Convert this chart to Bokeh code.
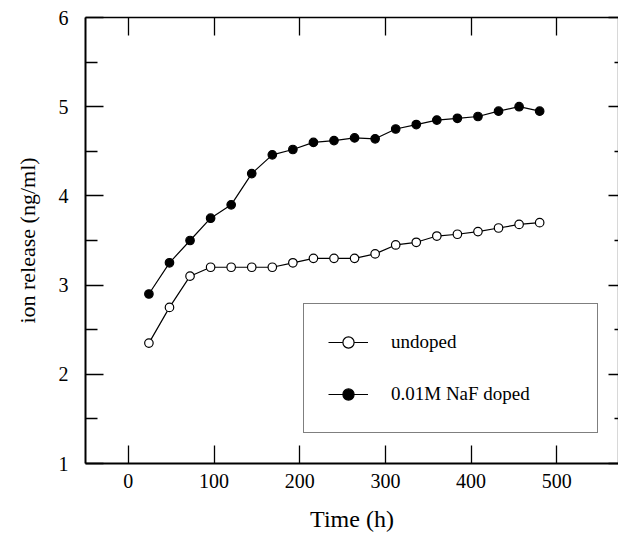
from bokeh.plotting import figure
from bokeh.models import (LinearAxis, FixedTicker, Legend, LegendItem, Range1d)
from bokeh.embed import file_html
from bokeh.resources import INLINE

hours = [24, 48, 72, 96, 120, 144, 168, 192, 216, 240,
         264, 288, 312, 336, 360, 384, 408, 432, 456, 480]
undoped = [2.35, 2.75, 3.10, 3.20, 3.20, 3.20, 3.20, 3.25, 3.30, 3.30,
           3.30, 3.35, 3.45, 3.48, 3.55, 3.57, 3.60, 3.64, 3.68, 3.70]
doped = [2.90, 3.25, 3.50, 3.75, 3.90, 4.25, 4.46, 4.52, 4.60, 4.62,
         4.65, 4.64, 4.75, 4.80, 4.85, 4.87, 4.89, 4.95, 5.00, 4.95]
x_ticks = [0, 100, 200, 300, 400, 500]
y_ticks = [1, 2, 3, 4, 5, 6]
y_minor = [1.5, 2.5, 3.5, 4.5, 5.5]

FONT = "Liberation Serif"

p = figure(width=618, height=534, output_backend="svg", toolbar_location=None,
           x_range=Range1d(-50, 572), y_range=Range1d(1, 6),
           min_border_left=85, min_border_top=17, min_border_bottom=67,
           min_border_right=0, x_axis_label="Time (h)",
           y_axis_label="ion release (ng/ml)")
p.outline_line_color = None
p.xgrid.visible = False
p.ygrid.visible = False
p.background_fill_color = "white"
p.border_fill_color = "white"

def style_axis(ax, ticks, minor, lw, labels=True):
    ax.ticker = FixedTicker(ticks=ticks, minor_ticks=minor)
    ax.axis_line_color = "black"
    ax.axis_line_width = lw
    ax.major_tick_line_color = "black"
    ax.major_tick_line_width = 1.3
    ax.minor_tick_line_color = "black"
    ax.minor_tick_line_width = 1.3
    ax.major_tick_out = 0
    ax.minor_tick_out = 0
    ax.major_tick_in = 18
    ax.minor_tick_in = 12
    ax.major_label_text_font = FONT
    if labels:
        ax.major_label_text_font_size = "20px"
        ax.major_label_text_color = "black"
    else:
        ax.major_label_text_font_size = "0px"
        ax.major_label_text_color = None
    ax.axis_label_text_font = FONT
    ax.axis_label_text_font_style = "normal"
    ax.axis_label_text_color = "black"

xa = p.xaxis[0]
style_axis(xa, x_ticks, [], 2)
xa.major_label_standoff = 10
xa.axis_label_standoff = 15
xa.axis_label_text_font_size = "24px"

ya = p.yaxis[0]
style_axis(ya, y_ticks, y_minor, 2)
ya.major_label_standoff = 17
ya.axis_label_standoff = 16
ya.axis_label_text_font_size = "22px"

top = LinearAxis()
style_axis(top, x_ticks, [], 1.3, labels=False)
top.major_label_standoff = 0
p.add_layout(top, "above")

right = LinearAxis()
style_axis(right, y_ticks, y_minor, 1.3, labels=False)
right.major_tick_in = 10
right.minor_tick_in = 4
right.major_label_standoff = 0
p.add_layout(right, "right")

l1 = p.line(hours, undoped, line_color="black", line_width=1.2)
s1 = p.scatter(hours, undoped, marker="circle", size=8.5, fill_color="white",
               line_color="black", line_width=1.2)
l2 = p.line(hours, doped, line_color="black", line_width=1.2)
s2 = p.scatter(hours, doped, marker="circle", size=8.5, fill_color="black",
               line_color="black", line_width=1.2)

legend = Legend(items=[LegendItem(label="undoped", renderers=[l1, s1]),
                       LegendItem(label="0.01M NaF doped", renderers=[l2, s2])],
                location=(218, 30))
legend.border_line_color = "black"
legend.border_line_width = 1.2
legend.background_fill_alpha = 1
legend.label_text_font = FONT
legend.label_text_font_size = "19px"
legend.label_text_color = "black"
legend.padding = 24
legend.spacing = 24
legend.margin = 0
legend.glyph_width = 40
legend.glyph_height = 28
legend.label_height = 28
legend.label_width = 182
legend.label_standoff = 23
p.add_layout(legend, "center")

open("out.html", "w").write(file_html(p, INLINE))
